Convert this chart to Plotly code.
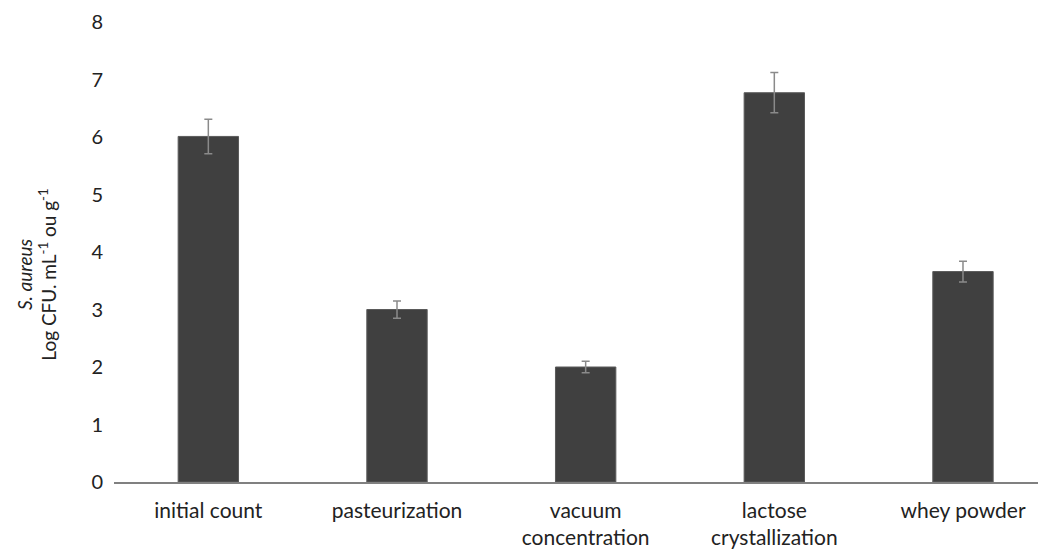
import plotly.graph_objects as go

categories = ["initial count", "pasteurization", "vacuum<br>concentration", "lactose<br>crystallization", "whey powder"]
values = [6.01, 3.0, 2.0, 6.77, 3.66]
errors = [0.30, 0.15, 0.10, 0.35, 0.18]
y_ticks = [0, 1, 2, 3, 4, 5, 6, 7, 8]
y_title = "<i>S. aureus</i><br>Log CFU. mL<sup>-1</sup> ou g<sup>-1</sup>"

fig = go.Figure()
fig.add_trace(go.Bar(
    x=list(range(len(categories))),
    y=values,
    width=0.32,
    marker=dict(color="#404040", line=dict(color="#5a5a5a", width=1)),
    error_y=dict(type="data", array=errors, visible=True, color="#8a8a8a", thickness=1.5, width=4),
))

fig.add_annotation(
    text=y_title, textangle=-90, xref="paper", yref="paper",
    x=-0.083, y=0.45, xanchor="center", yanchor="middle", showarrow=False,
    font=dict(size=19, color="#222"),
)

fig.update_layout(
    width=1038, height=546,
    margin=dict(l=106, r=0, t=14, b=72, autoexpand=False),
    paper_bgcolor="white", plot_bgcolor="white",
    font=dict(family="Lato, Open Sans, sans-serif", size=20, color="#222"),
    showlegend=False,
    xaxis=dict(
        tickmode="array", tickvals=list(range(len(categories))), ticktext=categories,
        range=[-0.5, 4.44], showline=True, linecolor="#808080", linewidth=1.5,
        ticks="", showgrid=False, zeroline=False, ticklabelstandoff=9,
        tickfont=dict(size=21), automargin=False,
    ),
    yaxis=dict(
        range=[0, 8], tickmode="array", tickvals=y_ticks, showgrid=False, zeroline=False,
        showline=False, ticks="", ticklabelstandoff=10, ticklabeloverflow="allow",
        tickfont=dict(size=20), automargin=False,
    ),
)

fig.write_html("out.html")
